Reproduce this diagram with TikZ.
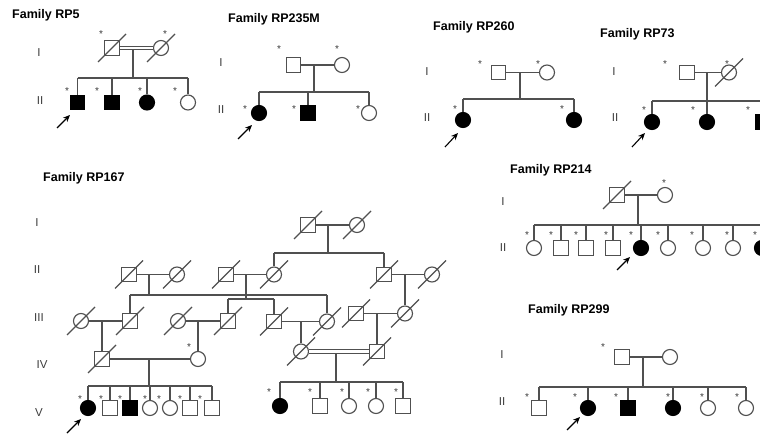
\documentclass[tikz,border=0pt]{standalone}
\usepackage{fontspec}
\setmainfont{Liberation Sans}
\usetikzlibrary{calc,arrows.meta}
\definecolor{lc}{RGB}{80,80,80}
\definecolor{gc}{RGB}{60,60,60}
\newcommand{\deceased}[1]{\draw[ln] ($(#1)+(-14,14)$) -- ($(#1)+(14,-14)$);}
\begin{document}
\begin{tikzpicture}[x=1pt,y=-1pt,
  ln/.style={draw=lc,line width=1.15pt},
  dbl/.style={draw=lc,line width=1.1pt,double=white,double distance=2.2pt},
  male/.style={rectangle,draw=lc,line width=1.15pt,minimum size=14.5pt,inner sep=0pt,fill=white},
  female/.style={circle,draw=lc,line width=1.15pt,minimum size=15pt,inner sep=0pt,fill=white},
  aff/.style={fill=black,draw=black},
  ttl/.style={anchor=base west,font=\bfseries\fontsize{12.5}{14}\selectfont,inner sep=0pt},
  gen/.style={font=\fontsize{11.5}{12}\selectfont,text=gc,inner sep=0pt},
  st/.style={font=\fontsize{10}{10}\selectfont,anchor=base,yshift=-5.6pt,inner sep=0pt,text=gc},
  arr/.style={draw=black,line width=1.1pt,-{Stealth[length=7pt,width=6pt]}}
]
\useasboundingbox (0,0) rectangle (760,435);
\clip (0,0) rectangle (760,435);
\fill[white] (0,0) rectangle (760,435);

% ---------------- RP5
\node[ttl] (t5) at (12,19) {Family RP5};
\node[gen] (l5a) at (39,53) {I};
\node[gen] (l5b) at (40,101) {II};
\node[male] (a1) at (112,48) {};
\node[female] (a2) at (161,48) {};
\draw[dbl] (a1) -- (a2);
\coordinate (a12) at (133,49.7);
\coordinate (sa) at (133,78);
\draw[ln] (a12) -- (sa);
\node[male,aff] (a3) at (77.5,102.5) {};
\node[male,aff] (a4) at (112,102.5) {};
\node[female,aff] (a5) at (147,102.5) {};
\node[female] (a6) at (188,102.5) {};
\draw[ln] (a3 |- sa) -- (a6 |- sa);
\foreach \n in {a3,a4,a5,a6} \draw[ln] (\n |- sa) -- (\n);
\deceased{a1} \deceased{a2}
\node[st] (sa1) at (101,32) {*};
\node[st] (sa2) at (165,32) {*};
\node[st] (sa3) at (67,89) {*};
\node[st] (sa4) at (97,89) {*};
\node[st] (sa5) at (140,89) {*};
\node[st] (sa6) at (175,89) {*};
\coordinate (pa0) at (57,128); \coordinate (pa1) at (70,115);
\draw[arr] (pa0) -- (pa1);

% ---------------- RP235M
\node[ttl] (t235) at (228,22.3) {Family RP235M};
\node[gen] (l235a) at (221,63) {I};
\node[gen] (l235b) at (221,110) {II};
\node[male] (b1) at (293.5,65) {};
\node[female] (b2) at (342,65) {};
\draw[ln] (b1) -- (b2);
\coordinate (b12) at (314,65);
\coordinate (sb) at (314,92);
\draw[ln] (b12) -- (sb);
\node[female,aff] (b3) at (259,113) {};
\node[male,aff] (b4) at (308,113) {};
\node[female] (b5) at (369,113) {};
\draw[ln] (b3 |- sb) -- (b5 |- sb);
\foreach \n in {b3,b4,b5} \draw[ln] (\n |- sb) -- (\n);
\node[st] (sb1) at (279,47) {*};
\node[st] (sb2) at (337,47) {*};
\node[st] (sb3) at (245,107) {*};
\node[st] (sb4) at (294,107) {*};
\node[st] (sb5) at (358,107) {*};
\coordinate (pb0) at (238,139); \coordinate (pb1) at (252,125);
\draw[arr] (pb0) -- (pb1);

% ---------------- RP260
\node[ttl] (t260) at (433,30.7) {Family RP260};
\node[gen] (l260a) at (427,72) {I};
\node[gen] (l260b) at (427,118) {II};
\node[male] (c1) at (498.5,72.5) {};
\node[female] (c2) at (547,72.5) {};
\draw[ln] (c1) -- (c2);
\coordinate (c12) at (520,72.5);
\coordinate (sc) at (520,99);
\draw[ln] (c12) -- (sc);
\node[female,aff] (c3) at (463,120) {};
\node[female,aff] (c4) at (574,120) {};
\draw[ln] (c3 |- sc) -- (c4 |- sc);
\foreach \n in {c3,c4} \draw[ln] (\n |- sc) -- (\n);
\node[st] (sc1) at (480,62) {*};
\node[st] (sc2) at (538,62) {*};
\node[st] (sc3) at (455,107) {*};
\node[st] (sc4) at (562,107) {*};
\coordinate (pc0) at (445,147); \coordinate (pc1) at (458,133);
\draw[arr] (pc0) -- (pc1);

% ---------------- RP73
\node[ttl] (t73) at (600,37.3) {Family RP73};
\node[gen] (l73a) at (614,72) {I};
\node[gen] (l73b) at (615,118) {II};
\node[male] (d1) at (687,72.5) {};
\node[female] (d2) at (729,72.5) {};
\draw[ln] (d1) -- (d2);
\coordinate (d12) at (707,72.5);
\coordinate (sd) at (707,101);
\draw[ln] (d12) -- (sd);
\node[female,aff] (d3) at (652,122) {};
\node[female,aff] (d4) at (707,122) {};
\node[male,aff] (d5) at (763,122) {};
\draw[ln] (d3 |- sd) -- (d5 |- sd);
\foreach \n in {d3,d4,d5} \draw[ln] (\n |- sd) -- (\n);
\deceased{d2}
\node[st] (sd1) at (665,62) {*};
\node[st] (sd2) at (727,62) {*};
\node[st] (sd3) at (644,108) {*};
\node[st] (sd4) at (693,108) {*};
\node[st] (sd5) at (748,108) {*};
\coordinate (pd0) at (632,147); \coordinate (pd1) at (645,133);
\draw[arr] (pd0) -- (pd1);

% ---------------- RP214
\node[ttl] (t214) at (510,174) {Family RP214};
\node[gen] (l214a) at (503,202) {I};
\node[gen] (l214b) at (503,248) {II};
\node[male] (e1) at (617,195) {};
\node[female] (e2) at (665,195) {};
\draw[ln] (e1) -- (e2);
\coordinate (e12) at (638,195);
\coordinate (se) at (638,225);
\draw[ln] (e12) -- (se);
\node[female] (e3) at (534,248) {};
\node[male] (e4) at (561,248) {};
\node[male] (e5) at (586,248) {};
\node[male] (e6) at (613,248) {};
\node[female,aff] (e7) at (641,248) {};
\node[female] (e8) at (668,248) {};
\node[female] (e9) at (703,248) {};
\node[female] (e10) at (733,248) {};
\node[female,aff] (e11) at (762,248) {};
\draw[ln] (e3 |- se) -- (e11 |- se);
\foreach \n in {e3,e4,e5,e6,e7,e8,e9,e10,e11} \draw[ln] (\n |- se) -- (\n);
\deceased{e1}
\node[st] (se0) at (664,181) {*};
\foreach \x/\k in {527/1,551/2,576/3,606/4,631/5,658/6,692/7,727/8,755/9}
  \node[st] (se\k) at (\x,233) {*};
\coordinate (pe0) at (617,270); \coordinate (pe1) at (630,257);
\draw[arr] (pe0) -- (pe1);

% ---------------- RP299
\node[ttl] (t299) at (528,314) {Family RP299};
\node[gen] (l299a) at (502,355) {I};
\node[gen] (l299b) at (502,402) {II};
\node[male] (f1) at (622,357) {};
\node[female] (f2) at (670,357) {};
\draw[ln] (f1) -- (f2);
\coordinate (f12) at (643,357);
\coordinate (sf) at (643,387);
\draw[ln] (f12) -- (sf);
\node[male] (f3) at (539,408) {};
\node[female,aff] (f4) at (588,408) {};
\node[male,aff] (f5) at (628,408) {};
\node[female,aff] (f6) at (673,408) {};
\node[female] (f7) at (708,408) {};
\node[female] (f8) at (746,408) {};
\draw[ln] (f3 |- sf) -- (f8 |- sf);
\foreach \n in {f3,f4,f5,f6,f7,f8} \draw[ln] (\n |- sf) -- (\n);
\node[st] (sf0) at (603,345) {*};
\foreach \x/\k in {527/1,575/2,616/3,668/4,702/5,737/6}
  \node[st] (sf\k) at (\x,395) {*};
\coordinate (pf0) at (567,430); \coordinate (pf1) at (580,417);
\draw[arr] (pf0) -- (pf1);

% ---------------- RP167
\node[ttl] (t167) at (43,181.7) {Family RP167};
\node[gen] (l167a) at (37,223) {I};
\node[gen] (l167b) at (37,270) {II};
\node[gen] (l167c) at (39,318) {III};
\node[gen] (l167d) at (42,365) {IV};
\node[gen] (l167e) at (39,413) {V};
% generation I
\node[male] (g1) at (308,225) {};
\node[female] (g2) at (357,225) {};
\draw[ln] (g1) -- (g2);
\coordinate (g12) at (328,225);
\coordinate (sg) at (328,253);
\draw[ln] (g12) -- (sg);
% generation II
\node[male] (h1) at (129,274.5) {};
\node[female] (h2) at (177,274.5) {};
\node[male] (h3) at (226,274.5) {};
\node[female] (h4) at (274,274.5) {};
\node[male] (h5) at (384,274.5) {};
\node[female] (h6) at (432,274.5) {};
\draw[ln] (h4 |- sg) -- (h5 |- sg);
\foreach \n in {h4,h5} \draw[ln] (\n |- sg) -- (\n);
\draw[ln] (h1) -- (h2);
\draw[ln] (h3) -- (h4);
\draw[ln] (h5) -- (h6);
% generation III
\node[female] (i1) at (81,321) {};
\node[male] (i2) at (130,321) {};
\node[female] (i3) at (178,321) {};
\node[male] (i4) at (228,321) {};
\node[male] (i5) at (274,321.5) {};
\node[female] (i6) at (327,321.5) {};
\node[male] (i7) at (356,313.5) {};
\node[female] (i8) at (405,313.5) {};
\coordinate (h12) at (149,274.5);
\coordinate (sh1) at (149,295);
\draw[ln] (h12) -- (sh1);
\draw[ln] (i2 |- sh1) -- (i6 |- sh1);
\foreach \n in {i2,i6} \draw[ln] (\n |- sh1) -- (\n);
\coordinate (h34) at (246,274.5);
\coordinate (sh2) at (246,299);
\draw[ln] (h34) -- (sh2);
\draw[ln] (i4 |- sh2) -- (i5 |- sh2);
\foreach \n in {i4,i5} \draw[ln] (\n |- sh2) -- (\n);
\coordinate (h56) at (405,274.5);
\draw[ln] (h56) -- (i8);
\draw[ln] (i1) -- (i2);
\draw[ln] (i3) -- (i4);
\draw[ln] (i5) -- (i6);
\draw[ln] (i7) -- (i8);
% generation IV
\node[male] (j1) at (102,359) {};
\node[female] (j2) at (198,359) {};
\node[female] (j3) at (301,351.5) {};
\node[male] (j4) at (377,351.5) {};
\coordinate (i12) at (102,321);
\draw[ln] (i12) -- (j1);
\coordinate (i34) at (198,321);
\draw[ln] (i34) -- (j2);
\coordinate (i56) at (301,321.5);
\draw[ln] (i56) -- (j3);
\coordinate (i78) at (377,313.5);
\draw[ln] (i78) -- (j4);
\draw[ln] (j1) -- (j2);
\draw[dbl] (j3) -- (j4);
\node[st] (sj2) at (189,345) {*};
% generation V
\coordinate (j12) at (149,359);
\coordinate (sj1) at (149,386);
\draw[ln] (j12) -- (sj1);
\node[female,aff] (k1) at (88,408) {};
\node[male] (k2) at (110,408) {};
\node[male,aff] (k3) at (130,408) {};
\node[female] (k4) at (150,408) {};
\node[female] (k5) at (170,408) {};
\node[male] (k6) at (190,408) {};
\node[male] (k7) at (212,408) {};
\draw[ln] (k1 |- sj1) -- (k7 |- sj1);
\foreach \n in {k1,k2,k3,k4,k5,k6,k7} \draw[ln] (\n |- sj1) -- (\n);
\foreach \x/\k in {80/1,101/2,120/3,145/4,159/5,180/6,200/7}
  \node[st] (sk\k) at (\x,397) {*};
\coordinate (j34) at (336,353.2);
\coordinate (sj2b) at (336,382);
\draw[ln] (j34) -- (sj2b);
\node[female,aff] (m1) at (280,406) {};
\node[male] (m2) at (320,406) {};
\node[female] (m3) at (349,406) {};
\node[female] (m4) at (376,406) {};
\node[male] (m5) at (403,406) {};
\draw[ln] (m1 |- sj2b) -- (m5 |- sj2b);
\foreach \n in {m1,m2,m3,m4,m5} \draw[ln] (\n |- sj2b) -- (\n);
\foreach \x/\k in {269/1,310/2,342/3,368/4,396/5}
  \node[st] (sm\k) at (\x,390) {*};
\coordinate (pg0) at (67,433); \coordinate (pg1) at (81,419);
\draw[arr] (pg0) -- (pg1);
% deceased marks
\foreach \n in {g1,g2,h1,h2,h3,h4,h5,h6,i1,i2,i3,i4,i5,i6,i7,i8,j1,j3,j4}
  {\deceased{\n}}
\end{tikzpicture}
\end{document}
